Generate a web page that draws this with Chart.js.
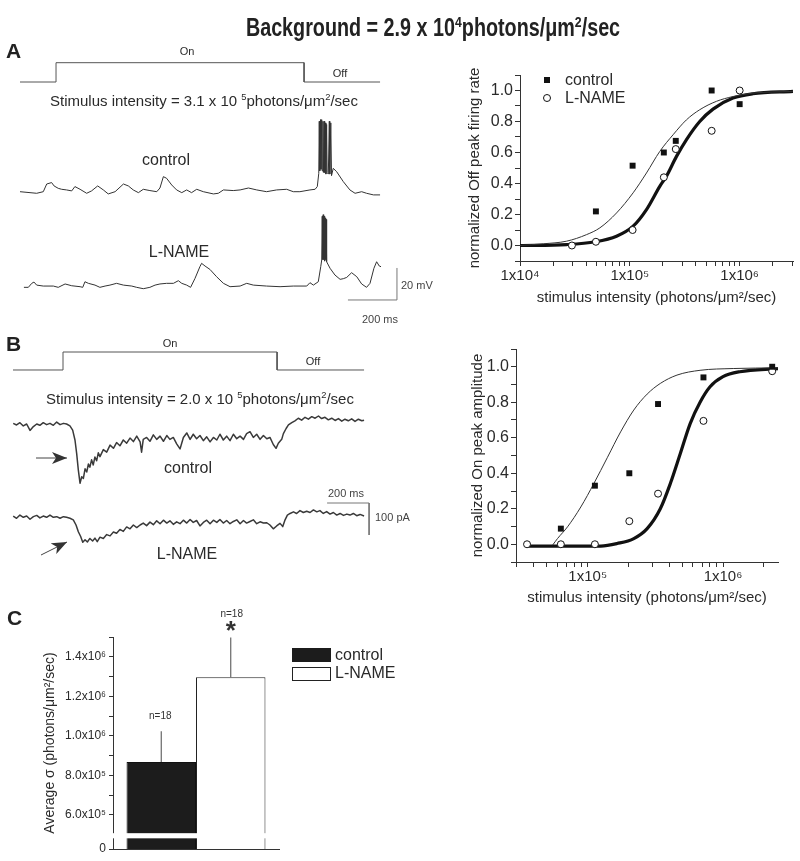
<!DOCTYPE html>
<html>
<head>
<meta charset="utf-8">
<title>Background = 2.9 x 10^4 photons/um2/sec</title>
<script src="https://cdn.jsdelivr.net/npm/chart.js@4.4.1/dist/chart.umd.min.js"></script>
<style>
  body { margin: 0; background: #fff; }
  #fig { position: relative; width: 800px; height: 861px; overflow: hidden;
         font-family: "Liberation Sans", Arial, sans-serif; color: #2a2a2a; }
  #fig canvas, #fig svg { position: absolute; }
  .t { position: absolute; white-space: nowrap; line-height: 1; }
  .c { transform: translate(-50%, -50%); }
  .l { transform: translate(0, -50%); }
  sup { font-size: 62%; vertical-align: 0.55em; line-height: 0; }
</style>
</head>
<body>
<div id="fig">
  <canvas id="stimA" width="385" height="35" style="left:15px;top:55px"></canvas>
  <canvas id="ctlA" width="385" height="88" style="left:15px;top:112px"></canvas>
  <canvas id="lnA" width="385" height="100" style="left:15px;top:205px"></canvas>
  <canvas id="offChart" width="360" height="270" style="left:440px;top:50px"></canvas>
  <canvas id="stimB" width="364" height="30" style="left:8px;top:345px"></canvas>
  <canvas id="ctlB" width="364" height="80" style="left:8px;top:410px"></canvas>
  <canvas id="lnB" width="364" height="65" style="left:8px;top:495px"></canvas>
  <canvas id="onChart" width="360" height="300" style="left:440px;top:320px"></canvas>
  <canvas id="sigmaChart" width="270" height="261" style="left:30px;top:600px"></canvas>

  <svg width="800" height="861" style="left:0;top:0">
    <defs>
      <marker id="head" markerWidth="16" markerHeight="12" refX="15" refY="6" orient="auto" markerUnits="userSpaceOnUse">
        <path d="M0,0 L15,6 L0,12 L4,6 z" fill="#333"></path>
      </marker>
    </defs>
    <line x1="36" y1="458" x2="67" y2="458" stroke="#444" stroke-width="1" marker-end="url(#head)"></line>
    <line x1="41" y1="555" x2="67" y2="542" stroke="#444" stroke-width="1" marker-end="url(#head)"></line>
  </svg>

  <div class="t c" style="left:433px;top:27px;font-size:25px;font-weight:bold;color:#222;transform:translate(-50%,-50%) scaleX(0.79)">Background = 2.9 x 10<sup>4</sup>photons/μm<sup>2</sup>/sec</div>

  <div class="t l" style="left:6px;top:50px;font-size:21px;font-weight:bold;color:#222">A</div>
  <div class="t c" style="left:187px;top:51px;font-size:11px">On</div>
  <div class="t c" style="left:340px;top:73px;font-size:11px">Off</div>
  <div class="t l" style="left:50px;top:100px;font-size:15px">Stimulus intensity = 3.1 x 10 <sup>5</sup>photons/μm<sup>2</sup>/sec</div>
  <div class="t c" style="left:166px;top:160px;font-size:16px">control</div>
  <div class="t c" style="left:179px;top:252px;font-size:16px">L-NAME</div>
  <div class="t c" style="left:380px;top:319px;font-size:11px;color:#444">200 ms</div>
  <div class="t l" style="left:401px;top:285px;font-size:11px;color:#444">20 mV</div>

  <div style="position:absolute;left:544px;top:77px;width:6px;height:6px;background:#111"></div>
  <div class="t l" style="left:565px;top:80px;font-size:16px">control</div>
  <div style="position:absolute;left:543px;top:94px;width:6px;height:6px;border:1px solid #111;border-radius:50%;background:#fff"></div>
  <div class="t l" style="left:565px;top:98px;font-size:16px">L-NAME</div>

  <div class="t l" style="left:6px;top:343px;font-size:21px;font-weight:bold;color:#222">B</div>
  <div class="t c" style="left:170px;top:343px;font-size:11px">On</div>
  <div class="t c" style="left:313px;top:361px;font-size:11px">Off</div>
  <div class="t l" style="left:46px;top:398px;font-size:15px">Stimulus intensity = 2.0 x 10 <sup>5</sup>photons/μm<sup>2</sup>/sec</div>
  <div class="t c" style="left:188px;top:468px;font-size:16px">control</div>
  <div class="t c" style="left:187px;top:554px;font-size:16px">L-NAME</div>
  <div class="t c" style="left:346px;top:493px;font-size:11px;color:#444">200 ms</div>
  <div class="t l" style="left:375px;top:517px;font-size:11px;color:#444">100 pA</div>

  <div class="t l" style="left:7px;top:617px;font-size:21px;font-weight:bold;color:#222">C</div>
  <div style="position:absolute;left:292px;top:648px;width:39px;height:14px;background:#1c1c1c"></div>
  <div class="t l" style="left:335px;top:655px;font-size:16px">control</div>
  <div style="position:absolute;left:292px;top:667px;width:37px;height:12px;border:1px solid #222;background:#fff"></div>
  <div class="t l" style="left:335px;top:673px;font-size:16px">L-NAME</div>
</div>

<script>
// ---- data ----

// light step (ms): on, off, end of sweep
const stimulusA = [147, 1159, 1469];
const stimulusB = [238, 1257, 1671];

// panel A voltage traces [ms, mV], 3.1x10^5 photons/um2/sec
const traceAControl = [[0,1.0],[68,0],[95,1.0],[109,5.8],[129,6.7],[139,4.6],[156,3.1],[170,2.5],[190,2.1],[211,1.5],[224,4.2],[245,2.5],[272,0],[292,1.5],[317,4.6],[340,2.1],[360,-0.4],[388,1.0],[422,5.8],[442,4.6],[462,2.1],[483,0.4],[503,2.5],[530,1.7],[558,1.0],[571,3.3],[585,10.4],[598,9.4],[619,5.2],[639,2.1],[660,0.4],[680,2.1],[700,0.4],[721,2.5],[748,1.0],[789,-0.4],[809,0],[830,2.1],[870,1.7],[898,2.1],[932,3.3],[966,2.1],[1006,1.0],[1047,2.1],[1088,2.5],[1115,1.0],[1142,1.0],[1183,2.1],[1204,2.5],[1213,4.2],[1219,12.5],[1221,45],[1223,14],[1226,46],[1228,15],[1231,46],[1233,14],[1236,45],[1238,13],[1241,45],[1243,13],[1246,44],[1248,12],[1251,43],[1253,13],[1258,12],[1262,45],[1264,12],[1268,44],[1271,11],[1278,15.6],[1292,13.5],[1319,7.3],[1346,2.1],[1367,0],[1394,1.0],[1414,0],[1442,-1.0],[1469,-1.0]];
const traceALName = [[16,-0.4],[34,-0.4],[48,2.1],[57,2.9],[68,1.0],[95,0.4],[136,0.4],[156,-0.4],[184,1.7],[211,0.6],[245,0],[256,-0.4],[265,3.1],[279,2.1],[306,1.0],[326,-0.4],[347,0.4],[367,1.0],[394,2.1],[422,1.0],[456,0.4],[476,-0.4],[503,-1.25],[530,-0.4],[551,1.0],[571,1.7],[598,2.1],[626,2.1],[646,3.75],[660,2.1],[680,1.0],[696,-0.4],[714,5.2],[734,12.5],[741,14.6],[755,12.9],[775,10.8],[802,6.25],[830,2.1],[857,0],[898,0.4],[925,2.1],[952,1.0],[1006,0.4],[1061,0],[1115,0.4],[1170,0.4],[1183,2.5],[1197,1.0],[1217,3.1],[1227,12.5],[1231,16.7],[1233,44],[1235,17],[1237,45],[1239,17],[1241,44],[1243,16],[1245,43],[1247,17],[1249,42],[1251,15.6],[1265,11.5],[1285,7.3],[1306,4.6],[1319,5.0],[1333,5.8],[1353,8.75],[1374,6.25],[1394,1.7],[1414,-0.4],[1428,2.1],[1444,11.5],[1455,15.6],[1466,12.9],[1473,12.5]];

// panel B current traces [ms, pA], 2.0x10^5 photons/um2/sec
const traceBControl = [[1,2],[17,-3],[33,4],[49,-6],[65,0],[81,-20],[97,-8],[113,0],[128,-4],[144,4],[160,-2],[176,2],[192,-4],[208,6],[224,-2],[240,2],[255,0],[271,-6],[284,-19],[295,-50],[303,-92],[311,-144],[319,-185],[327,-165],[335,-170],[343,-140],[351,-150],[359,-125],[366,-135],[374,-112],[382,-128],[390,-103],[398,-115],[406,-90],[414,-102],[430,-80],[446,-88],[462,-66],[478,-76],[493,-58],[509,-68],[525,-50],[541,-60],[557,-44],[573,-55],[589,-38],[605,-56],[612,-88],[620,-48],[636,-42],[652,-54],[668,-34],[684,-48],[700,-38],[716,-54],[732,-36],[747,-48],[763,-42],[779,-62],[795,-78],[811,-42],[827,-28],[843,-48],[858,-32],[874,-46],[890,-36],[906,-52],[922,-40],[938,-56],[954,-42],[970,-50],[985,-32],[1001,-50],[1017,-38],[1033,-52],[1049,-32],[1065,-46],[1081,-38],[1097,-48],[1112,-30],[1128,-24],[1144,-42],[1160,-32],[1176,-48],[1192,-36],[1208,-46],[1223,-42],[1239,-64],[1252,-76],[1263,-60],[1279,-48],[1287,-30],[1300,-14],[1311,-3],[1327,4],[1342,10],[1358,18],[1374,12],[1390,21],[1406,15],[1422,23],[1438,18],[1454,25],[1469,17],[1485,21],[1501,13],[1517,18],[1533,11],[1549,17],[1565,9],[1580,15],[1596,10],[1612,16],[1628,8],[1644,15],[1660,10],[1671,12]];
const traceBLName = [[1,4],[17,-3],[33,7],[49,0],[65,4],[81,-6],[97,2],[113,6],[128,-2],[144,4],[160,0],[176,7],[192,0],[208,2],[224,-3],[240,2],[255,0],[271,-3],[287,-8],[300,-24],[311,-45],[322,-60],[332,-78],[343,-70],[354,-77],[366,-66],[379,-74],[390,-65],[401,-76],[414,-62],[430,-66],[446,-54],[462,-58],[478,-46],[493,-50],[509,-38],[525,-44],[541,-30],[557,-36],[573,-24],[589,-32],[605,-24],[620,-18],[636,-26],[652,-15],[668,-23],[684,-11],[700,-20],[716,-9],[732,-18],[747,-11],[763,-22],[779,-14],[795,-20],[811,-9],[827,-18],[843,-7],[858,-16],[874,-10],[890,-27],[906,-16],[922,-9],[938,-20],[954,-9],[970,-16],[985,-7],[1001,-18],[1017,-10],[1033,-20],[1049,-13],[1065,-8],[1081,-20],[1097,-10],[1112,-18],[1128,-13],[1144,-8],[1160,-20],[1176,-14],[1192,-18],[1208,-17],[1223,-24],[1239,-36],[1255,-27],[1271,-19],[1284,-29],[1295,-8],[1306,7],[1319,12],[1335,17],[1350,12],[1366,21],[1382,15],[1398,19],[1414,15],[1430,23],[1446,17],[1461,21],[1477,12],[1493,18],[1509,10],[1525,15],[1541,7],[1557,12],[1573,6],[1589,10],[1604,7],[1620,12],[1636,5],[1652,9],[1671,4]];

// scale bars
const scaleBarA = [200, 20];   // ms, mV
const scaleBarB = [200, 100];  // ms, pA

// panel A right: normalized Off peak firing rate
const offXControl = [4.91e4, 1.06e5, 2.04e5, 2.62e5, 5.56e5, 1.0e6];
const offYControl = [0.22, 0.515, 0.60, 0.675, 1.0, 0.912];
const offXLName = [2.97e4, 4.91e4, 1.06e5, 2.04e5, 2.62e5, 5.56e5, 1.0e6];
const offYLName = [0.0, 0.024, 0.10, 0.44, 0.622, 0.74, 1.0];
const offFitXControl = [1e4, 1.63e4, 2.66e4, 4.03e4, 5.34e4, 7.57e4, 1.072e5, 1.418e5, 1.874e5, 2.48e5, 3.27e5, 4.33e5, 6.14e5, 8.69e5, 1.32e6, 3.06e6];
const offFitYControl = [0.0, 0.011, 0.028, 0.07, 0.114, 0.21, 0.34, 0.468, 0.607, 0.715, 0.81, 0.876, 0.93, 0.961, 0.983, 0.994];
const offFitXLName = [1e4, 2.66e4, 4.87e4, 7.57e4, 1.072e5, 1.418e5, 1.874e5, 2.15e5, 2.66e5, 3.27e5, 4.33e5, 5.72e5, 8.69e5, 1.32e6, 3.06e6];
const offFitYLName = [0.0, 0.006, 0.024, 0.06, 0.125, 0.232, 0.382, 0.446, 0.575, 0.682, 0.80, 0.88, 0.951, 0.979, 0.994];

// panel B right: normalized On peak amplitude
const onXControl = [6.33e4, 1.13e5, 2.03e5, 3.31e5, 7.17e5, 2.31e6];
const onYControl = [0.088, 0.33, 0.40, 0.79, 0.94, 1.0];
const onXLName = [3.56e4, 6.33e4, 1.13e5, 2.03e5, 3.31e5, 7.17e5, 2.31e6];
const onYLName = [0.0, 0.0, 0.0, 0.13, 0.285, 0.695, 0.975];
const onFitXControl = [5.5e4, 5.98e4, 7.09e4, 8.89e4, 1.11e5, 1.40e5, 1.75e5, 2.19e5, 2.75e5, 3.44e5, 4.57e5, 6.77e5, 1.19e6, 2.55e6];
const onFitYControl = [-0.005, 0.032, 0.098, 0.21, 0.342, 0.49, 0.633, 0.756, 0.846, 0.906, 0.953, 0.98, 0.99, 0.994];
const onFitXLName = [3.6e4, 1.25e5, 1.65e5, 2.19e5, 2.75e5, 3.44e5, 4.08e5, 4.83e5, 5.72e5, 6.77e5, 8.02e5, 1.0e6, 1.33e6, 2.55e6];
const onFitYLName = [-0.01, -0.01, 0.004, 0.032, 0.088, 0.2, 0.342, 0.51, 0.68, 0.8, 0.887, 0.944, 0.972, 0.99];

// panel C: average sigma (photons/um2/sec)
const groups = ['control', 'L-NAME'];
const sigmaMean = [8.68e5, 1.296e6];
const sigmaErr = [1.55e5, 2.02e5];
const groupN = ['n=18', 'n=18'];

// ---- drawing ----

Chart.defaults.font.family = '"Liberation Sans", Arial, sans-serif';
Chart.defaults.color = '#222';

const SUP = { 4: '\u2074', 5: '\u2075', 6: '\u2076' };

function pairs(arr) {
    return arr.map(function (p) { return { x: p[0], y: p[1] }; });
}

function xy(xs, ys) {
    return xs.map(function (x, i) { return { x: x, y: ys[i] }; });
}

function stepData(s) {
    return [{ x: 0, y: 0 }, { x: s[0], y: 0 }, { x: s[0], y: 1 },
            { x: s[1], y: 1 }, { x: s[1], y: 0 }, { x: s[2], y: 0 }];
}

// L shaped scale bar, corner at (t, v); dir = +1 goes up, -1 goes down
function scaleBar(bar, t, v, dir) {
    return [{ x: t - bar[0], y: v }, { x: t, y: v }, { x: t, y: v + dir * bar[1] }];
}

function traceChart(id, datasets, xr, yr) {
    return new Chart(document.getElementById(id), {
        type: 'line',
        data: { datasets: datasets },
        options: {
            responsive: false,
            animation: false,
            events: [],
            layout: { padding: 0 },
            scales: {
                x: { type: 'linear', display: false, min: xr[0], max: xr[1] },
                y: { type: 'linear', display: false, min: yr[0], max: yr[1] }
            },
            elements: { point: { radius: 0 }, line: { tension: 0, borderJoinStyle: 'round' } },
            plugins: { legend: { display: false }, tooltip: { enabled: false } }
        }
    });
}

function line(data, color, width) {
    return { data: data, borderColor: color, borderWidth: width, pointRadius: 0, clip: false };
}

// x range of the trace canvases, in ms
const xRangeA = [-20.4, 1550.4];
const xRangeB = [-23.8, 1708.8];

traceChart('stimA', [line(stepData(stimulusA), '#555', 1)], xRangeA, [-0.4145, 1.399]);
traceChart('ctlA', [line(pairs(traceAControl), '#333', 1)], xRangeA, [-4.19, 50.8]);
traceChart('lnA', [
    line(pairs(traceALName), '#333', 1),
    line(scaleBar(scaleBarA, 1538, -8.3, 1), '#777', 1)
], xRangeA, [-11.44, 51.06]);

traceChart('stimB', [line(stepData(stimulusB), '#555', 1)], xRangeB, [-0.278, 1.389]);
traceChart('ctlB', [line(pairs(traceBControl), '#3a3a3a', 1.5)], xRangeB, [-206.25, 43.75]);
traceChart('lnB', [
    line(pairs(traceBLName), '#3a3a3a', 1.5),
    line(scaleBar(scaleBarB, 1695, 44.7, -1), '#777', 1)
], xRangeB, [-133.4, 69.7]);

// log axis: ticks at 1..9 x 10^n, only powers of ten get a label
function logTicks(scale) {
    var t = [];
    for (var e = Math.floor(Math.log10(scale.min)); e <= Math.ceil(Math.log10(scale.max)); e++) {
        for (var m = 1; m < 10; m++) {
            var v = m * Math.pow(10, e);
            if (v >= scale.min * 0.999 && v <= scale.max * 1.001) t.push({ value: v });
        }
    }
    scale.ticks = t;
}

function powerLabel(v) {
    var e = Math.round(Math.log10(v));
    return Math.abs(v - Math.pow(10, e)) < 1e-6 * v ? '1x10' + SUP[e] : '';
}

function doseChart(id, sets, xr, yTitle, box) {
    return new Chart(document.getElementById(id), {
        type: 'scatter',
        data: {
            datasets: [
                { data: xy(sets[0], sets[1]), pointStyle: 'rect', pointRadius: 4.2, backgroundColor: '#111', borderColor: '#111', borderWidth: 0 },
                { data: xy(sets[2], sets[3]), pointStyle: 'circle', pointRadius: 3.5, backgroundColor: '#fff', borderColor: '#111', borderWidth: 1 },
                { data: xy(sets[4], sets[5]), showLine: true, pointRadius: 0, borderColor: '#333', borderWidth: 1, cubicInterpolationMode: 'monotone' },
                { data: xy(sets[6], sets[7]), showLine: true, pointRadius: 0, borderColor: '#111', borderWidth: 3.2, cubicInterpolationMode: 'monotone' }
            ]
        },
        options: {
            responsive: false,
            animation: false,
            events: [],
            layout: { padding: { left: 0, top: box.top, right: box.right, bottom: 0 } },
            scales: {
                x: {
                    type: 'logarithmic', min: xr[0], max: xr[1],
                    afterBuildTicks: logTicks,
                    afterFit: function (s) { s.height = box.xH; },
                    grid: { drawOnChartArea: false, tickLength: 5, color: '#333' },
                    border: { color: '#333' },
                    ticks: { autoSkip: false, maxRotation: 0, padding: 1, font: { size: 15 }, color: '#2a2a2a', callback: powerLabel },
                    title: { display: true, text: 'stimulus intensity (photons/μm²/sec)', font: { size: 15 }, color: '#2a2a2a', padding: { top: 0, bottom: 13 } }
                },
                y: {
                    min: -0.1, max: 1.1,
                    afterFit: function (s) { s.width = box.yW; },
                    grid: { drawOnChartArea: false, tickLength: 5, color: '#333' },
                    border: { color: '#333' },
                    ticks: {
                        stepSize: 0.1, autoSkip: false, padding: 2, font: { size: 16 }, color: '#2a2a2a',
                        callback: function (v) {
                            var k = Math.round(v * 10);
                            return (k >= 0 && k <= 10 && k % 2 === 0) ? (k / 10).toFixed(1) : '';
                        }
                    },
                    title: { display: true, text: yTitle, font: { size: 15 }, color: '#2a2a2a', padding: { top: box.titlePad, bottom: 0 } }
                }
            },
            plugins: { legend: { display: false }, tooltip: { enabled: false } }
        }
    });
}

doseChart('offChart',
    [offXControl, offYControl, offXLName, offYLName, offFitXControl, offFitYControl, offFitXLName, offFitYLName],
    [1e4, 3.06e6], 'normalized Off peak firing rate',
    { top: 25, right: 7, xH: 59, yW: 80, titlePad: 26 });

doseChart('onChart',
    [onXControl, onYControl, onXLName, onYLName, onFitXControl, onFitYControl, onFitXLName, onFitYLName],
    [2.95e4, 2.55e6], 'normalized On peak amplitude',
    { top: 29, right: 22, xH: 58, yW: 76, titlePad: 29 });

// panel C, broken y axis: everything under the break is shown as "0"
const sigmaMin = 4.28e5;
const sigmaBreak = [4.82e5, 5.08e5];

function sciLabel(v) {
    var e = Math.floor(Math.log10(v));
    return (v / Math.pow(10, e)).toFixed(1) + 'x10' + SUP[e];
}

const sigmaExtras = {
    id: 'sigmaExtras',
    afterDatasetsDraw: function (chart) {
        var ctx = chart.ctx, y = chart.scales.y;
        ctx.save();
        for (var i = 0; i < sigmaMean.length; i++) {
            var bar = chart.getDatasetMeta(i).data[0];
            var top = y.getPixelForValue(sigmaMean[i] + sigmaErr[i]);
            ctx.strokeStyle = '#666';
            ctx.lineWidth = 1.2;
            ctx.beginPath();
            ctx.moveTo(bar.x, bar.y);
            ctx.lineTo(bar.x, top);
            ctx.stroke();
            ctx.fillStyle = '#333';
            ctx.textAlign = 'center';
            ctx.textBaseline = 'middle';
            ctx.font = '10px "Liberation Sans", Arial, sans-serif';
            if (i === 1) {
                ctx.fillText(groupN[i], bar.x + 1, top - 23);
                ctx.font = 'bold 26px "Liberation Sans", Arial, sans-serif';
                ctx.fillText('*', bar.x, top - 6);
            } else {
                ctx.fillText(groupN[i], bar.x - 1, top - 15);
            }
        }
        ctx.restore();
    },
    afterDraw: function (chart) {
        var ctx = chart.ctx, y = chart.scales.y, a = chart.chartArea;
        var y0 = y.getPixelForValue(sigmaBreak[1]), y1 = y.getPixelForValue(sigmaBreak[0]);
        ctx.save();
        ctx.fillStyle = '#fff';
        ctx.fillRect(a.left - 6, y0, a.right - a.left + 6, y1 - y0);
        ctx.restore();
    }
};

new Chart(document.getElementById('sigmaChart'), {
    type: 'bar',
    data: {
        labels: [''],
        datasets: [
            { label: groups[0], data: [sigmaMean[0]], backgroundColor: '#1c1c1c', borderColor: '#111', borderWidth: 1 },
            { label: groups[1], data: [sigmaMean[1]], backgroundColor: '#fff', borderColor: '#222', borderWidth: 1 }
        ]
    },
    options: {
        responsive: false,
        animation: false,
        events: [],
        categoryPercentage: 0.837,
        barPercentage: 1.0,
        layout: { padding: { left: 0, top: 37, right: 21, bottom: 0 } },
        scales: {
            x: {
                afterFit: function (s) { s.height = 12; },
                grid: { display: false },
                border: { color: '#333' },
                ticks: { display: false }
            },
            y: {
                min: sigmaMin, max: 1.5e6,
                afterBuildTicks: function (s) {
                    var t = [{ value: sigmaMin }];
                    for (var k = 6; k <= 15; k++) t.push({ value: k * 1e5 });
                    s.ticks = t;
                },
                afterFit: function (s) { s.width = 83; },
                grid: { drawOnChartArea: false, tickLength: 4, color: '#333' },
                border: { color: '#333' },
                ticks: {
                    autoSkip: false, padding: 3, font: { size: 12 }, color: '#2a2a2a',
                    callback: function (v) {
                        if (v === sigmaMin) return '0';
                        return Math.round(v / 1e5) % 2 === 0 ? sciLabel(v) : '';
                    }
                },
                title: { display: true, text: 'Average σ (photons/μm²/sec)', font: { size: 14 }, color: '#2a2a2a', padding: { top: 12, bottom: 0 } }
            }
        },
        plugins: { legend: { display: false }, tooltip: { enabled: false } }
    },
    plugins: [sigmaExtras]
});
</script>
</body>
</html>
